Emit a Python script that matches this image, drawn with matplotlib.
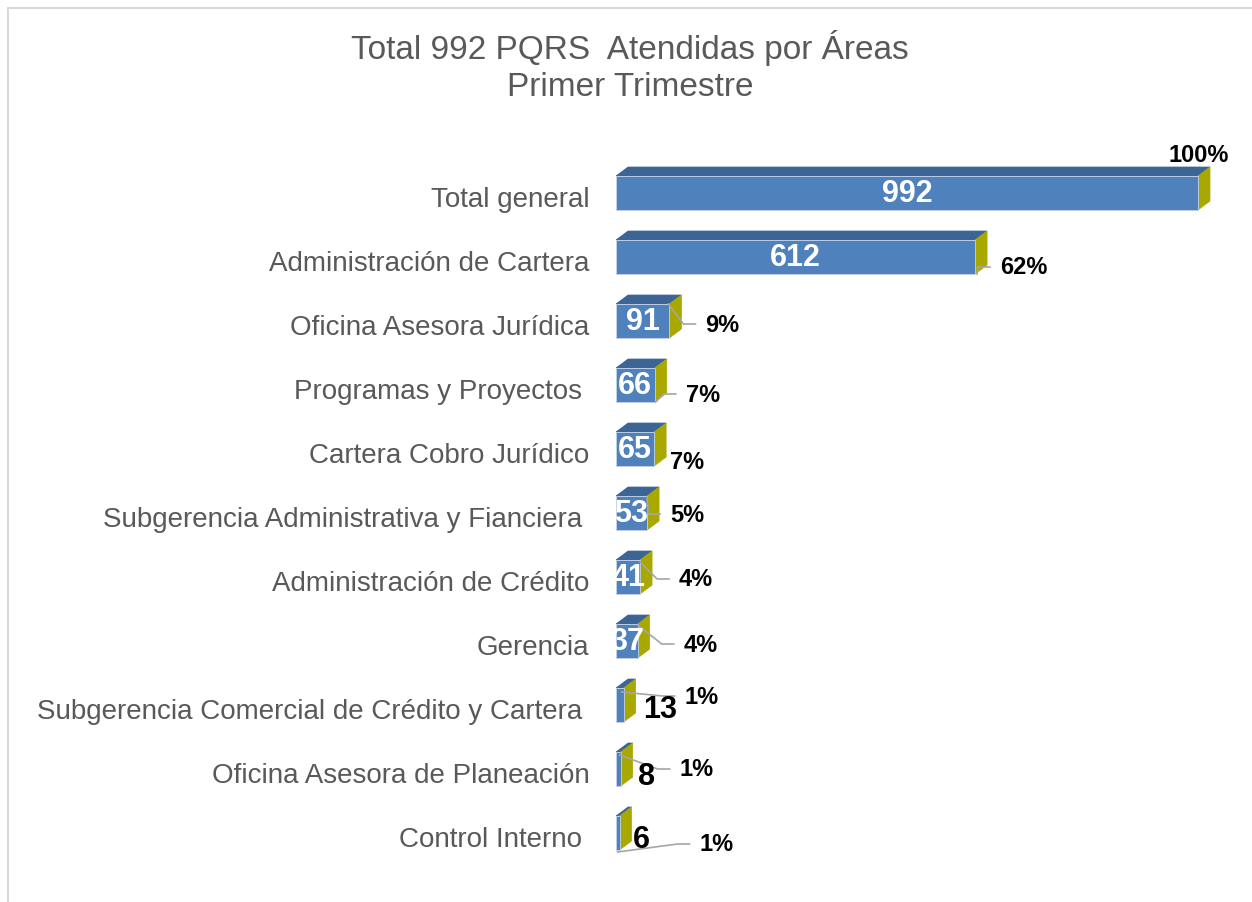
import matplotlib
matplotlib.use("Agg")
import matplotlib.pyplot as plt
from matplotlib.patches import Polygon, Rectangle

plt.rcParams["font.family"] = ["Liberation Sans", "DejaVu Sans"]

# datos
categorias = [
    "Total general",
    "Administración de Cartera",
    "Oficina Asesora Jurídica",
    "Programas y Proyectos ",
    "Cartera Cobro Jurídico",
    "Subgerencia Administrativa y Fianciera ",
    "Administración de Crédito",
    "Gerencia",
    "Subgerencia Comercial de Crédito y Cartera ",
    "Oficina Asesora de Planeación",
    "Control Interno ",
]
valores = [992, 612, 91, 66, 65, 53, 41, 37, 13, 8, 6]
total = valores[0]
titulo = "Total 992 PQRS  Atendidas por Áreas\nPrimer Trimestre"

# posiciones de etiquetas (pixeles respecto al extremo de la barra)
pct_off = [(-30, -42), (25, 7), (36, 0), (31, 6), (16, 10), (23, -2),
           (39, -1), (46, 0), (61, -12), (59, -3), (80, 8)]
guia = [None, (2, 14), (-1, -20), (1, 14), None, (0, -19),
        (0, -18), (0, -19), (-2, -16), (-1, -17), (-2, 16)]
val_fuera = {8: (19, 1), 9: (17, 4), 10: (13, 3)}

AZUL = "#4F81BD"
AZUL_TOP = "#3C6494"
OLIVA = "#A9A800"
GRIS = "#595959"
LINEA = "#A6A6A6"

W, H = 1252, 903
fig = plt.figure(figsize=(W / 100, H / 100), dpi=100)
fig.patch.set_facecolor("white")

x0, x1 = 616, 1198
ytop, ybot = 165, 869
ax = fig.add_axes([x0 / W, 1 - ybot / H, (x1 - x0) / W, (ybot - ytop) / H])
n = len(valores)
ax.set_xlim(0, total)
ax.set_ylim(n - 0.5, -0.5)
for s in ax.spines.values():
    s.set_visible(False)
ax.set_xticks([])
ax.set_yticks(range(n))
ax.set_yticklabels(categorias, fontsize=20, color=GRIS)
ax.tick_params(axis="y", length=0, pad=19)

kx = total / (x1 - x0)          # unidades por pixel
ky = n / (ybot - ytop)

dx, dy = 12, 9
for i, v in enumerate(valores):
    yt = i - 20 * ky
    yb = i + 14 * ky
    front = Rectangle((0, yt), v, yb - yt, facecolor=AZUL, edgecolor="#C3D3E8",
                      lw=0.6, clip_on=False, zorder=3)
    top = Polygon([(0, yt), (v, yt), (v + dx * kx, yt - dy * ky), (dx * kx, yt - dy * ky)],
                  closed=True, facecolor=AZUL_TOP, edgecolor=AZUL_TOP, lw=0.5,
                  clip_on=False, zorder=2)
    side = Polygon([(v, yt), (v + dx * kx, yt - dy * ky), (v + dx * kx, yb - dy * ky), (v, yb)],
                   closed=True, facecolor=OLIVA, edgecolor=OLIVA, lw=0.5,
                   clip_on=False, zorder=2)
    for p in (top, side, front):
        ax.add_patch(p)

    # valor
    if i in val_fuera:
        ox, oy = val_fuera[i]
        ax.text(v + ox * kx, i + oy * ky, str(v), ha="left", va="center",
                fontsize=22, fontweight="bold", color="black", zorder=6)
    else:
        ax.text(v / 2, i - 3 * ky, str(v), ha="center", va="center",
                fontsize=22, fontweight="bold", color="white", zorder=6)

    # porcentaje
    pct = round(v / total * 100)
    ox, oy = pct_off[i]
    lx, ly = v + ox * kx, i + oy * ky
    ax.text(lx, ly, f"{pct}%", ha="left", va="center", fontsize=17,
            fontweight="bold", color="black", zorder=6)
    if guia[i] is not None:
        gx, gy = guia[i]
        xs = [v + gx * kx, lx - 22 * kx, lx - 10 * kx]
        ys = [i + gy * ky, ly, ly]
        ax.plot(xs, ys, color=LINEA, lw=1.2, clip_on=False, zorder=5)

fig.text(630 / W, 1 - 30 / H, titulo, ha="center", va="top", fontsize=24,
         color=GRIS, linespacing=1.25)

fig.patches.append(Rectangle((8 / W, -0.5), 2, 1.5 - 8.5 / H, transform=fig.transFigure,
                             fill=False, edgecolor="#D9D9D9", lw=1.5))

fig.savefig("out.png", dpi=100)
